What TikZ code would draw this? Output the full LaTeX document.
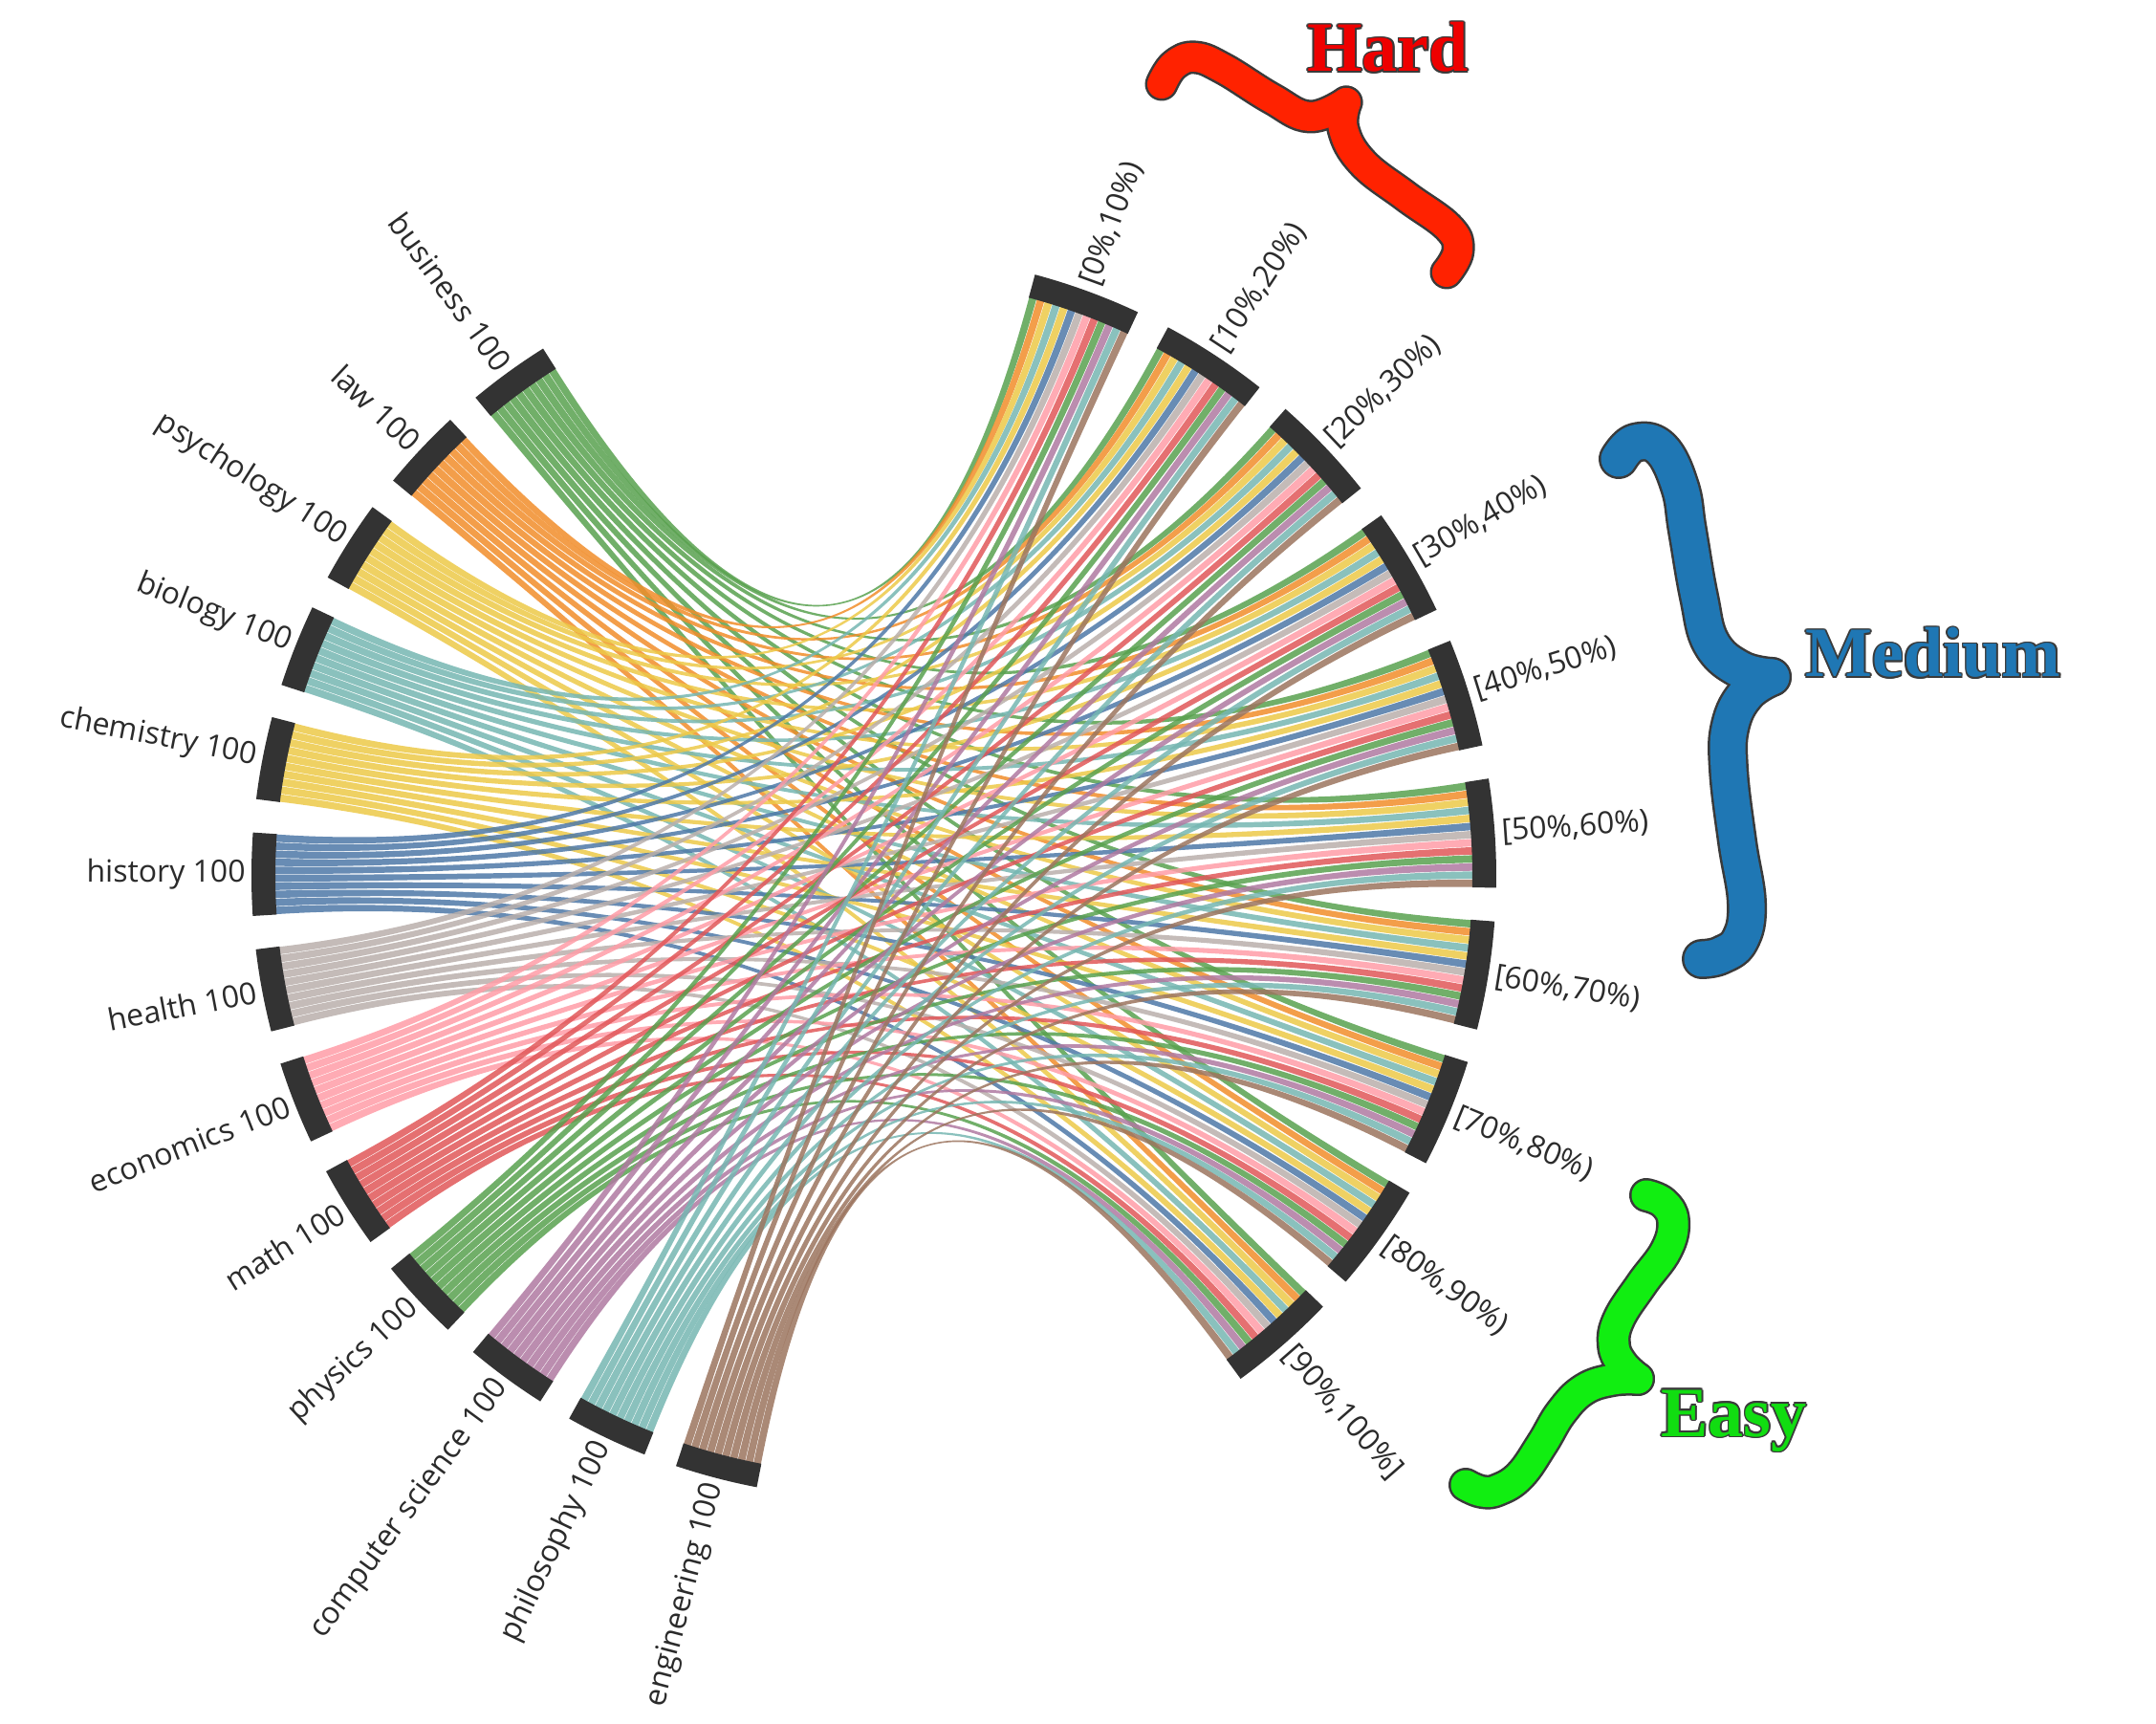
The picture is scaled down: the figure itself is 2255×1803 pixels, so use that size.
\documentclass[tikz,border=0pt]{standalone}
\usepackage{fontspec}
\setmainfont{Open Sans}
\newfontfamily\bigserif{Liberation Serif}
\definecolor{tgreen}{HTML}{59A14F}
\definecolor{torange}{HTML}{F28E2B}
\definecolor{tyellow}{HTML}{EDC948}
\definecolor{tteal}{HTML}{76B7B2}
\definecolor{tblue}{HTML}{4E79A7}
\definecolor{tgray}{HTML}{BAB0AC}
\definecolor{tpink}{HTML}{FF9DA7}
\definecolor{tred}{HTML}{E15759}
\definecolor{tpurple}{HTML}{B07AA1}
\definecolor{tbrown}{HTML}{9C755F}
\colorlet{c0}{tgreen}
\colorlet{c1}{torange}
\colorlet{c2}{tyellow}
\colorlet{c3}{tteal}
\colorlet{c4}{tyellow}
\colorlet{c5}{tblue}
\colorlet{c6}{tgray}
\colorlet{c7}{tpink}
\colorlet{c8}{tred}
\colorlet{c9}{tgreen}
\colorlet{c10}{tpurple}
\colorlet{c11}{tteal}
\colorlet{c12}{tbrown}
\definecolor{arcgray}{HTML}{333333}
\definecolor{labelgray}{HTML}{2B2B2B}
\definecolor{outl}{HTML}{3A3A3A}
\definecolor{hardred}{HTML}{FF2200}
\definecolor{hardtext}{HTML}{EE0000}
\definecolor{medblue}{HTML}{1F77B4}
\definecolor{easygreen}{HTML}{11EE11}
\definecolor{easytext}{HTML}{11DD11}
\newcommand{\shiftcopy}[3]{\makebox[0pt][l]{\hspace*{#1}\raisebox{#2}{\textcolor{outl}{#3}}}}
\newcommand{\outlinedtext}[2]{\shiftcopy{0.8pt}{0pt}{#2}\shiftcopy{-0.8pt}{0pt}{#2}\shiftcopy{0pt}{0.8pt}{#2}\shiftcopy{0pt}{-0.8pt}{#2}\shiftcopy{0.57pt}{0.57pt}{#2}\shiftcopy{-0.57pt}{0.57pt}{#2}\shiftcopy{0.57pt}{-0.57pt}{#2}\shiftcopy{-0.57pt}{-0.57pt}{#2}\textcolor{#1}{#2}}
\begin{document}
\begin{tikzpicture}[x=0.5pt,y=0.5pt,
  ribbon/.style={fill opacity=0.85, draw=none},
  arcband/.style={draw=arcgray, line width=12.5pt},
  sublabel/.style={font=\fontsize{16}{19}\selectfont, text=labelgray, inner sep=0pt, anchor=east},
  binlabel/.style={font=\fontsize{16}{19}\selectfont, text=labelgray, inner sep=0pt, anchor=west},
  bigword/.style={font=\bigserif\bfseries\fontsize{37}{40}\selectfont, inner sep=0pt, anchor=base west},
  bracepath/.style={line cap=round, line join=round}]
\fill[white] (-914,-887) rectangle (1341,916);
\useasboundingbox (-914,-887) rectangle (1341,916);
% chords (ribbons)
\foreach \i in {0,...,12}{
  \foreach \j in {0,...,9}{
    \pgfmathsetmacro\angAa{122.1+10.78*\i+\j*0.77+0.03}
    \pgfmathsetmacro\angAb{122.1+10.78*\i+(\j+1)*0.77-0.03}
    \pgfmathsetmacro\angBb{75-13.2*\j-\i*0.777-0.03}
    \pgfmathsetmacro\angBa{75-13.2*\j-(\i+1)*0.777+0.03}
    \fill[ribbon, fill=c\i] (\angAa:628) arc[start angle=\angAa, end angle=\angAb, radius=628]
      .. controls (\angAb:209.3) and (\angBa:209.3) .. (\angBa:628)
      arc[start angle=\angBa, end angle=\angBb, radius=628]
      .. controls (\angBb:209.3) and (\angAa:209.3) .. (\angAa:628) -- cycle;
  }
}
% subject arcs
\foreach \i in {0,...,12}{
  \pgfmathsetmacro\angs{122.1+10.78*\i}
  \pgfmathsetmacro\ange{\angs+7.7}
  \draw[arcband] (\angs:638.5) arc[start angle=\angs, end angle=\ange, radius=638.5];
}
% bin arcs
\foreach \j in {0,...,9}{
  \pgfmathsetmacro\ange{75-13.2*\j}
  \pgfmathsetmacro\angs{\ange-10.1}
  \draw[arcband] (\angs:638.5) arc[start angle=\angs, end angle=\ange, radius=638.5];
}
% subject labels
\foreach \i/\t in {0/business 100,1/law 100,2/psychology 100,3/biology 100,4/chemistry 100,5/history 100,6/health 100,7/economics 100,8/math 100,9/physics 100,10/computer science 100,11/philosophy 100,12/engineering 100}{
  \pgfmathsetmacro\angm{122.1+10.78*\i+3.85}
  \pgfmathsetmacro\rota{\angm-180}
  \node[sublabel, rotate=\rota] (L\i) at (\angm:657) {\t};
}
% bin labels
\foreach \j/\t in {0/{[0\%,10\%)},1/{[10\%,20\%)},2/{[20\%,30\%)},3/{[30\%,40\%)},4/{[40\%,50\%)},5/{[50\%,60\%)},6/{[60\%,70\%)},7/{[70\%,80\%)},8/{[80\%,90\%)},9/{[90\%,100\%]}}{
  \pgfmathsetmacro\angm{75-13.2*\j-5.05}
  \node[binlabel, rotate=\angm] (R\j) at (\angm:658) {\t};
}
% braces (image coordinates)
\begin{scope}[shift={(-914,916)},yscale=-1]
\foreach \w/\c in {17.5/outl,15/hardred}{
  \draw[bracepath, line width=\w pt, draw=\c] plot[smooth, tension=0.7] coordinates {(1215,88) (1228,68) (1250,60) (1280,72) (1330,103) (1370,122) (1408,107)};
  \draw[bracepath, line width=\w pt, draw=\c] plot[smooth, tension=0.7] coordinates {(1408,107) (1405,135) (1425,170) (1470,205) (1515,238) (1525,262) (1513,285)};
}
\foreach \w/\c in {21/outl,18.5/medblue}{
  \draw[bracepath, line width=\w pt, draw=\c] plot[smooth, tension=0.7] coordinates {(1693,480) (1710,463) (1737,469) (1757,509) (1765,555) (1777,624) (1790,673) (1820,700) (1853,708)};
  \draw[bracepath, line width=\w pt, draw=\c] plot[smooth, tension=0.7] coordinates {(1853,708) (1827,725) (1810,758) (1808,804) (1817,880) (1827,945) (1820,983) (1800,999) (1780,1003)};
}
\foreach \w/\c in {18/outl,15.5/easygreen}{
  \draw[bracepath, line width=\w pt, draw=\c] plot[smooth, tension=0.7] coordinates {(1722,1250) (1740,1258) (1750,1277) (1743,1307) (1717,1343) (1693,1380) (1688,1407) (1697,1427) (1713,1442)};
  \draw[bracepath, line width=\w pt, draw=\c] plot[smooth, tension=0.7] coordinates {(1713,1442) (1687,1443) (1657,1453) (1633,1477) (1613,1510) (1590,1543) (1567,1558) (1550,1560) (1533,1553)};
}
\end{scope}
\node[bigword] (hard) at (453,841) {\outlinedtext{hardtext}{Hard}};
\node[bigword] (medium) at (974,208) {\outlinedtext{medblue}{Medium}};
\node[bigword] (easy) at (823,-586) {\outlinedtext{easytext}{Easy}};
\end{tikzpicture}
\end{document}
